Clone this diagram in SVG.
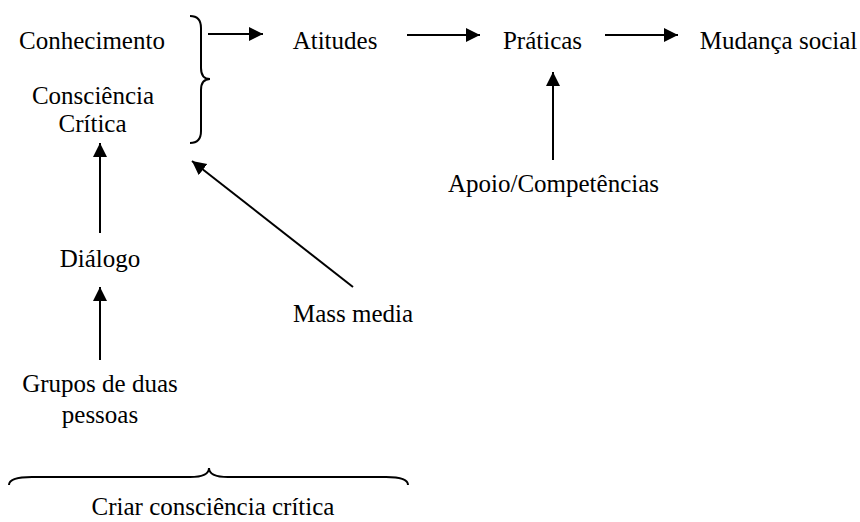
<svg xmlns="http://www.w3.org/2000/svg" width="860" height="522" viewBox="0 0 860 522">
<style>
.t{font-family:'Liberation Serif','DejaVu Serif',serif;font-size:25px;fill:#000;text-anchor:middle}
.c{stroke:#000;stroke-width:2;fill:none}
.b{stroke:#000;stroke-width:2;fill:none}
</style>
<defs>
<marker id="ah" markerUnits="userSpaceOnUse" markerWidth="15" markerHeight="15" refX="14" refY="7" orient="auto">
<path d="M0,0 L14,7 L0,14 z" fill="#000"/>
</marker>
</defs>
<rect width="860" height="522" fill="#fff"/>
<g class="t" font-family="Liberation Serif, serif" font-size="25" text-anchor="middle">
<g id="conhecimento"><text x="92" y="49">Conhecimento</text></g>
<g id="consciencia"><text x="93" y="104">Consciência</text><text x="92.5" y="132">Crítica</text></g>
<g id="atitudes"><text x="335" y="49">Atitudes</text></g>
<g id="praticas"><text x="542.5" y="49">Práticas</text></g>
<g id="mudanca"><text x="778.5" y="49">Mudança social</text></g>
<g id="apoio"><text x="553.5" y="192">Apoio/Competências</text></g>
<g id="dialogo"><text x="100" y="267">Diálogo</text></g>
<g id="massmedia"><text x="353" y="322">Mass media</text></g>
<g id="grupos"><text x="100" y="392">Grupos de duas</text><text x="100" y="423">pessoas</text></g>
<g id="criar"><text x="213" y="515">Criar consciência crítica</text></g>
</g>
<g id="brace-right"><path class="b" d="M190,16 Q201,16 201,28 L201,68 Q201,79 210,79 Q201,79 201,90 L201,131 Q201,143 190,143"/></g>
<g id="brace-bottom"><path class="b" d="M9,485 Q9,477 32,477 L190,477 Q209,477 209,468 Q209,477 228,477 L386,477 Q408,477 408,485"/></g>
<g id="connectors">
<line class="c" x1="208" y1="34" x2="263" y2="34" marker-end="url(#ah)"/>
<line class="c" x1="407" y1="35" x2="480" y2="35" marker-end="url(#ah)"/>
<line class="c" x1="605" y1="35" x2="678" y2="35" marker-end="url(#ah)"/>
<line class="c" x1="553" y1="160" x2="553" y2="72" marker-end="url(#ah)"/>
<line class="c" x1="100" y1="233" x2="100" y2="143" marker-end="url(#ah)"/>
<line class="c" x1="100" y1="360" x2="100" y2="287" marker-end="url(#ah)"/>
<line class="c" x1="353" y1="287" x2="192" y2="161" marker-end="url(#ah)"/>
</g>
</svg>
